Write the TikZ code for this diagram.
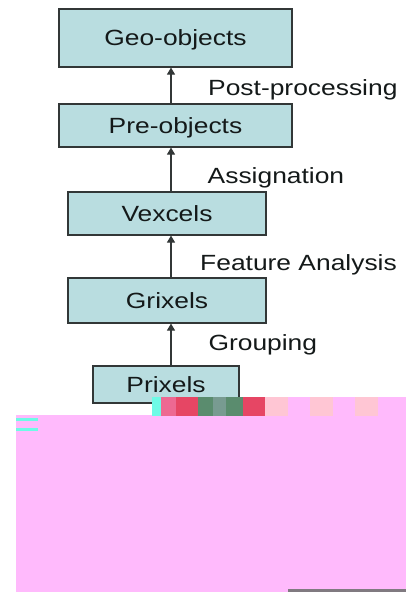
\documentclass[tikz,border=0pt]{standalone}
\usepackage{fontspec}
\setmainfont{Liberation Sans}[FakeStretch=1.2]
\usetikzlibrary{arrows.meta}
\definecolor{boxfill}{RGB}{185,221,224}
\definecolor{boxline}{RGB}{50,55,55}
\definecolor{txt}{RGB}{20,25,25}
\definecolor{glitchpink}{RGB}{255,186,252}
\definecolor{glitchpeach}{RGB}{255,198,212}
\definecolor{glitchcyan}{RGB}{110,250,230}
\definecolor{glitchred}{RGB}{230,70,100}
\definecolor{glitchgreen}{RGB}{90,140,110}
\definecolor{glitchgray}{RGB}{120,155,145}
\definecolor{glitchbar}{RGB}{128,122,128}
\tikzset{
  stagebox/.style={draw=boxline, fill=boxfill, line width=1.2pt, inner sep=0pt,
    text=txt, font=\fontsize{22}{24}\selectfont, text height=15.8pt, text depth=0pt},
  steplabel/.style={anchor=base west, inner sep=0pt, text=txt,
    font=\fontsize{22}{24}\selectfont},
  uparrow/.style={draw=boxline, line width=1.2pt, -{Triangle[width=8pt,length=7pt]}},
  glitch/.style={draw=none}
}
\begin{document}
\begin{tikzpicture}[x=1pt,y=-1pt]
\useasboundingbox (0,0) rectangle (406,592);
% boxes
\node[stagebox, minimum width=233pt, minimum height=58pt] (geo) at (175.5,38) {Geo-objects};
\node[stagebox, minimum width=233pt, minimum height=43pt] (pre) at (175.5,125.5) {Pre-objects};
\node[stagebox, minimum width=198pt, minimum height=43pt] (vex) at (167,213.5) {Vexcels};
\node[stagebox, minimum width=198pt, minimum height=45pt] (gri) at (167,300.5) {Grixels};
\node[stagebox, minimum width=146pt, minimum height=37pt] (pri) at (166,384.5) {Prixels};
% arrows
\coordinate (ax) at (171,0);
\draw[uparrow] (pre.north -| ax) -- (geo.south -| ax);
\draw[uparrow] (vex.north -| ax) -- (pre.south -| ax);
\draw[uparrow] (gri.north -| ax) -- (vex.south -| ax);
\draw[uparrow] (pri.north -| ax) -- (gri.south -| ax);
% labels
\node[steplabel] (lpost) at (208,95.7) {Post-processing};
\node[steplabel] (lassi) at (207.5,183.3) {Assignation};
\node[steplabel] (lfeat) at (200,270.7) {Feature Analysis};
\node[steplabel] (lgrou) at (208.3,350) {Grouping};
% damaged lower part of the image
\fill[glitchpink] (16,415) rectangle (406,592);
\fill[glitchcyan] (152,397) rectangle (161,416);
\fill[glitchred!70!glitchpink] (161,397) rectangle (176,416);
\fill[glitchred] (176,397) rectangle (198,416);
\fill[glitchgreen] (198,397) rectangle (213,416);
\fill[glitchgray] (213,397) rectangle (226,416);
\fill[glitchgreen] (226,397) rectangle (243,416);
\fill[glitchred] (243,397) rectangle (265,416);
\fill[glitchpeach] (265,397) rectangle (288,416);
\fill[glitchpink] (288,397) rectangle (310,416);
\fill[glitchpeach] (310,397) rectangle (333,416);
\fill[glitchpink] (333,397) rectangle (355,416);
\fill[glitchpeach] (355,397) rectangle (378,416);
\fill[glitchpink] (378,397) rectangle (406,416);
\fill[glitchcyan] (16,418) rectangle (38,421);
\fill[glitchcyan] (16,428) rectangle (38,431);
\fill[glitchbar] (288,589) rectangle (406,592);
\end{tikzpicture}
\end{document}
